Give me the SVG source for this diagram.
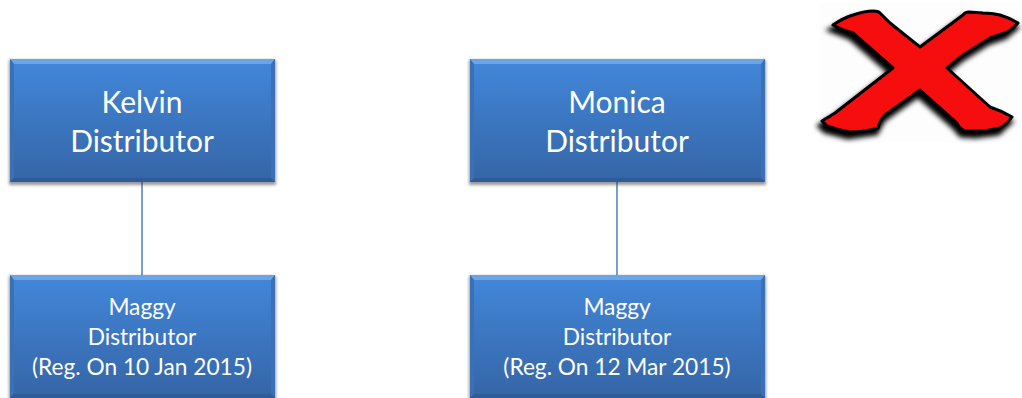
<svg xmlns="http://www.w3.org/2000/svg" width="1022" height="398" viewBox="0 0 1022 398">
<defs>
<linearGradient id="face" x1="0" y1="0" x2="0" y2="1"><stop offset="0" stop-color="#4287da"/><stop offset="1" stop-color="#3565a6"/></linearGradient>
<filter id="sh" x="-5%" y="-5%" width="110%" height="115%"><feGaussianBlur stdDeviation="1.6"/></filter>
<filter id="xs" x="-10%" y="-10%" width="120%" height="125%"><feGaussianBlur stdDeviation="2.6"/></filter>
<filter id="soft" x="-2%" y="-2%" width="104%" height="104%"><feGaussianBlur stdDeviation="0.6"/></filter>
</defs>
<style>
.shadow{fill:#333;opacity:.5;filter:url(#sh)}
.face{fill:url(#face)}
.top{fill:#6aa5e8}.side{fill:#3a70b6}.bottom{fill:#2f5c98}
.big{font:30px Lato,"Open Sans",sans-serif;fill:#fff;text-anchor:middle}
.small{font:22.7px Lato,"Open Sans",sans-serif;fill:#fff;text-anchor:middle}
.link{stroke:#4a7ebb;stroke-width:1.5;fill:none}
</style>
<g id="connectors">
<line class="link" x1="142" y1="182" x2="142" y2="275"/>
<line class="link" x1="617" y1="182" x2="617" y2="275"/>
</g>
<g id="kelvin">
<rect class="shadow" x="9" y="60" width="267" height="125"/>
<rect class="face" x="10" y="59" width="265" height="123"/>
<polygon class="top" points="10,59 275,59 271,64 14,64"/>
<polygon class="side" points="275,59 275,182 271,178 271,64"/>
<polygon class="side" points="10,59 10,182 14,178 14,64"/>
<polygon class="bottom" points="10,182 275,182 271,178 14,178"/>
<text class="big" x="142" y="113">Kelvin</text><text class="big" x="142" y="152">Distributor</text>
</g>
<g id="kelvin-maggy">
<rect class="shadow" x="9" y="276" width="267" height="125"/>
<rect class="face" x="10" y="275" width="265" height="123"/>
<polygon class="top" points="10,275 275,275 271,280 14,280"/>
<polygon class="side" points="275,275 275,398 271,394 271,280"/>
<polygon class="side" points="10,275 10,398 14,394 14,280"/>
<polygon class="bottom" points="10,398 275,398 271,394 14,394"/>
<text class="small" x="142" y="315">Maggy</text><text class="small" x="142" y="345">Distributor</text><text class="small" x="142" y="375">(Reg. On 10 Jan 2015)</text>
</g>
<g id="monica">
<rect class="shadow" x="469" y="60" width="297" height="125"/>
<rect class="face" x="470" y="59" width="295" height="123"/>
<polygon class="top" points="470,59 765,59 761,64 474,64"/>
<polygon class="side" points="765,59 765,182 761,178 761,64"/>
<polygon class="side" points="470,59 470,182 474,178 474,64"/>
<polygon class="bottom" points="470,182 765,182 761,178 474,178"/>
<text class="big" x="617" y="113">Monica</text><text class="big" x="617" y="152">Distributor</text>
</g>
<g id="monica-maggy">
<rect class="shadow" x="469" y="276" width="297" height="125"/>
<rect class="face" x="470" y="275" width="295" height="123"/>
<polygon class="top" points="470,275 765,275 761,280 474,280"/>
<polygon class="side" points="765,275 765,398 761,394 761,280"/>
<polygon class="side" points="470,275 470,398 474,394 474,280"/>
<polygon class="bottom" points="470,398 765,398 761,394 474,394"/>
<text class="small" x="617" y="315">Maggy</text><text class="small" x="617" y="345">Distributor</text><text class="small" x="617" y="375">(Reg. On 12 Mar 2015)</text>
</g>
<g id="cross">
<rect x="820" y="3" width="198" height="139" fill="#fdfdfd"/>
<path id="xshadow" d="M833,25 L853,15 L873,11 L880,13 L890,23 L920,47 L963,15 L967,12 L983,13 L1000,15 L1018,23 L1007,32 L990,38 L963,55 L947,68 L990,107 L1012,117 L1000,128 L977,131 L963,130 L957,123 L920,90 L885,115 L878,128 L850,132 L827,126 L822,121 L835,113 L893,68 L853,33 Z" fill="#000" stroke="#000" stroke-width="5" filter="url(#xs)" transform="translate(-2,5)"/>
<path d="M833,25 Q843,18 853,15 Q865,11 873,11 Q878,11 880,13 L890,23 L920,47 L963,15 Q965,12 969,12 L983,13 Q992,13 1000,15 Q1010,18 1018,23 Q1013,29 1007,32 L990,38 L963,55 L947,68 L990,107 Q1002,111 1012,117 Q1007,124 1000,128 Q988,131 977,131 L966,131 Q960,130 957,123 L920,90 L885,115 Q880,120 878,128 Q865,132 850,132 Q838,130 827,126 L822,121 L835,113 L893,68 L853,33 Q842,30 833,25 Z" fill="#f60d0d" stroke="#000" stroke-width="3" stroke-linejoin="round" filter="url(#soft)"/>
</g>
</svg>
